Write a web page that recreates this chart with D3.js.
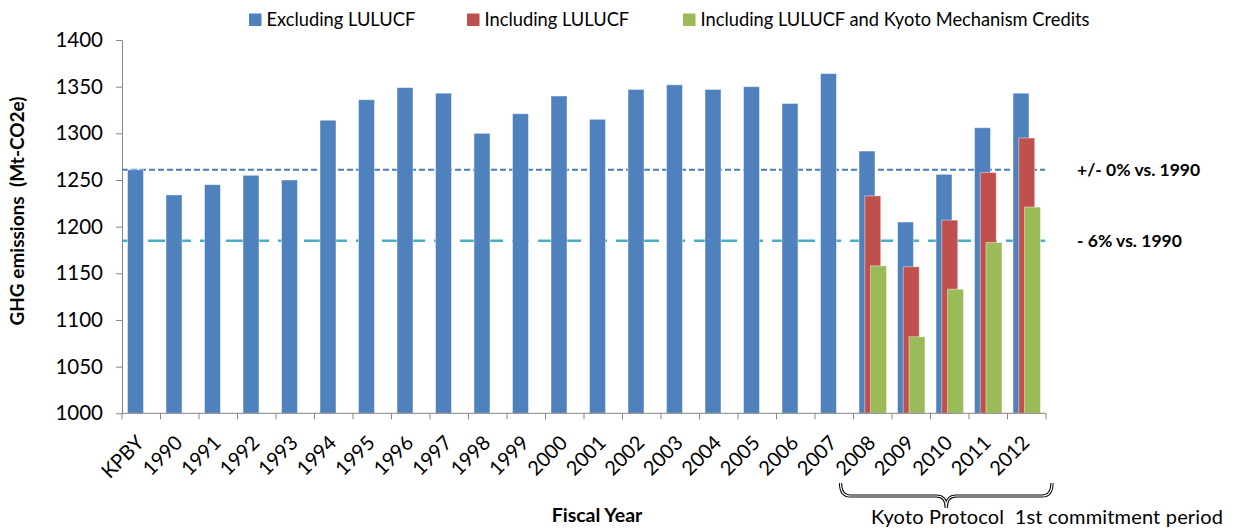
<!DOCTYPE html>
<html>
<head>
<meta charset="utf-8">
<script src="https://cdn.jsdelivr.net/npm/d3@7"></script>
<style>
  body { margin: 0; background: #fff; }
  svg text { font-family: Lato, "Open Sans", sans-serif; fill: #000; }
</style>
</head>
<body>
<svg width="1235" height="531"></svg>
<script>
// categories and series
const categories = ["KPBY", "1990", "1991", "1992", "1993", "1994", "1995", "1996", "1997", "1998", "1999",
    "2000", "2001", "2002", "2003", "2004", "2005", "2006", "2007", "2008", "2009", "2010", "2011", "2012"];
const excludingLulucf = [1261, 1234, 1245, 1255, 1250, 1314, 1336, 1349, 1343, 1300, 1321,
    1340, 1315, 1347, 1352, 1347, 1350, 1332, 1364, 1281, 1205, 1256, 1306, 1343];
const includingLulucf = [null, null, null, null, null, null, null, null, null, null, null,
    null, null, null, null, null, null, null, null, 1233, 1157, 1207, 1258, 1295];
const includingKyoto = [null, null, null, null, null, null, null, null, null, null, null,
    null, null, null, null, null, null, null, null, 1158, 1082, 1133, 1183, 1221];
const seriesNames = ["Excluding LULUCF", "Including LULUCF", "Including LULUCF and Kyoto Mechanism Credits"];
const refValues = [1261, 1185];
const refLabels = ["+/- 0% vs. 1990", "- 6% vs. 1990"];
const yTicks = [1000, 1050, 1100, 1150, 1200, 1250, 1300, 1350, 1400];

const colors = ["#4f81bd", "#c0504d", "#9bbb59"];

var svg = d3.select("svg");

var x = d3.scaleBand().domain(categories).range([122, 1046]);
var y = d3.scaleLinear().domain([1000, 1400]).range([413.3, 40]);

// reference lines go under the bars
let refG = svg.append("g");
refG.selectAll("line")
    .data(refValues)
    .enter().append("line")
    .attr("x1", 122)
    .attr("x2", 1045)
    .attr("y1", d => y(d))
    .attr("y2", d => y(d))
    .attr("stroke", (d, i) => i == 0 ? "#4a7ebb" : "#4bacc6")
    .attr("stroke-width", (d, i) => i == 0 ? 2 : 2.5)
    .attr("stroke-dasharray", (d, i) => i == 0 ? "6,3" : "17,9");

refG.selectAll("text")
    .data(refLabels)
    .enter().append("text")
    .attr("x", 1077)
    .attr("y", (d, i) => y(refValues[i]) + 6)
    .style("font-size", "17.5px")
    .style("font-weight", "bold")
    .text(d => d);

// bars
const barW = 16, step = 5.75;
const allSeries = [excludingLulucf, includingLulucf, includingKyoto];
allSeries.forEach(function (values, si) {
    svg.append("g")
        .selectAll("rect")
        .data(values.map((v, i) => ({cat: categories[i], v: v})).filter(d => d.v != null))
        .enter().append("rect")
        .attr("x", d => x(d.cat) + x.bandwidth() / 2 - (barW + 2 * step) / 2 + si * step)
        .attr("width", barW)
        .attr("y", d => y(d.v))
        .attr("height", d => y(1000) - y(d.v))
        .attr("fill", colors[si])
        .attr("stroke", "rgba(255,255,255,0.45)")
        .attr("stroke-width", 1);
});

// y axis
let yAxis = svg.append("g")
    .attr("transform", "translate(122,0)")
    .call(d3.axisLeft(y).tickValues(yTicks).tickFormat(d3.format("d"))
        .tickSize(6).tickSizeOuter(0).tickPadding(13));
yAxis.select(".domain").attr("stroke", "#868686");
yAxis.selectAll(".tick line").attr("stroke", "#868686");
yAxis.selectAll(".tick text").style("font-size", "20.5px").style("font-family", "Lato, sans-serif");

// x axis: line, boundary ticks, rotated labels
let xG = svg.append("g");
xG.append("line")
    .attr("x1", 122).attr("x2", 1046)
    .attr("y1", y(1000)).attr("y2", y(1000))
    .attr("stroke", "#868686");
xG.selectAll(".xt")
    .data(categories.concat(["end"]))
    .enter().append("line")
    .attr("x1", d => d == "end" ? x.range()[1] : x(d))
    .attr("x2", d => d == "end" ? x.range()[1] : x(d))
    .attr("y1", y(1000))
    .attr("y2", y(1000) + 6)
    .attr("stroke", "#868686");
xG.selectAll(".xl")
    .data(categories)
    .enter().append("text")
    .attr("text-anchor", "end")
    .attr("transform", d => "translate(" + (x(d) + x.bandwidth() / 2 + 4) + ",444) rotate(-45)")
    .style("font-size", "20px")
    .text(d => d);

// axis titles
svg.append("text")
    .attr("transform", "translate(24,211) rotate(-90)")
    .attr("text-anchor", "middle")
    .style("font-size", "19px")
    .style("font-weight", "bold")
    .style("white-space", "pre")
    .text("GHG emissions  (Mt-CO2e)");

svg.append("text")
    .attr("x", 597)
    .attr("y", 522)
    .attr("text-anchor", "middle")
    .style("font-size", "19.5px")
    .style("font-weight", "bold")
    .text("Fiscal Year");

// legend
const legendX = [249, 467, 683];
let legend = svg.append("g");
legend.selectAll("rect")
    .data(seriesNames)
    .enter().append("rect")
    .attr("x", (d, i) => legendX[i])
    .attr("y", 13.5)
    .attr("width", 12.5)
    .attr("height", 12.5)
    .attr("fill", (d, i) => colors[i]);
legend.selectAll("text")
    .data(seriesNames)
    .enter().append("text")
    .attr("x", (d, i) => legendX[i] + 17.5)
    .attr("y", 26)
    .style("font-size", "18.3px")
    .text(d => d);

// brace under the Kyoto period
let x0 = x("2008") - 13, x1 = x.range()[1] + 6, xm = (x0 + x1) / 2;
let brace = "M" + x0 + ",483 Q" + x0 + ",496 " + (x0 + 10) + ",496 L" + (xm - 10) + ",496 Q" + xm + ",496 " + xm + ",508" +
    " Q" + xm + ",496 " + (xm + 10) + ",496 L" + (x1 - 10) + ",496 Q" + x1 + ",496 " + x1 + ",483";
svg.append("path").attr("d", brace).attr("fill", "none").attr("stroke", "#000").attr("stroke-width", 3.2);
svg.append("path").attr("d", brace).attr("fill", "none").attr("stroke", "#fff").attr("stroke-width", 1.2);

svg.append("text")
    .attr("x", 871)
    .attr("y", 524)
    .attr("textLength", 352)
    .style("font-size", "20px")
    .style("white-space", "pre")
    .text("Kyoto Protocol  1st commitment period");
</script>
</body>
</html>
